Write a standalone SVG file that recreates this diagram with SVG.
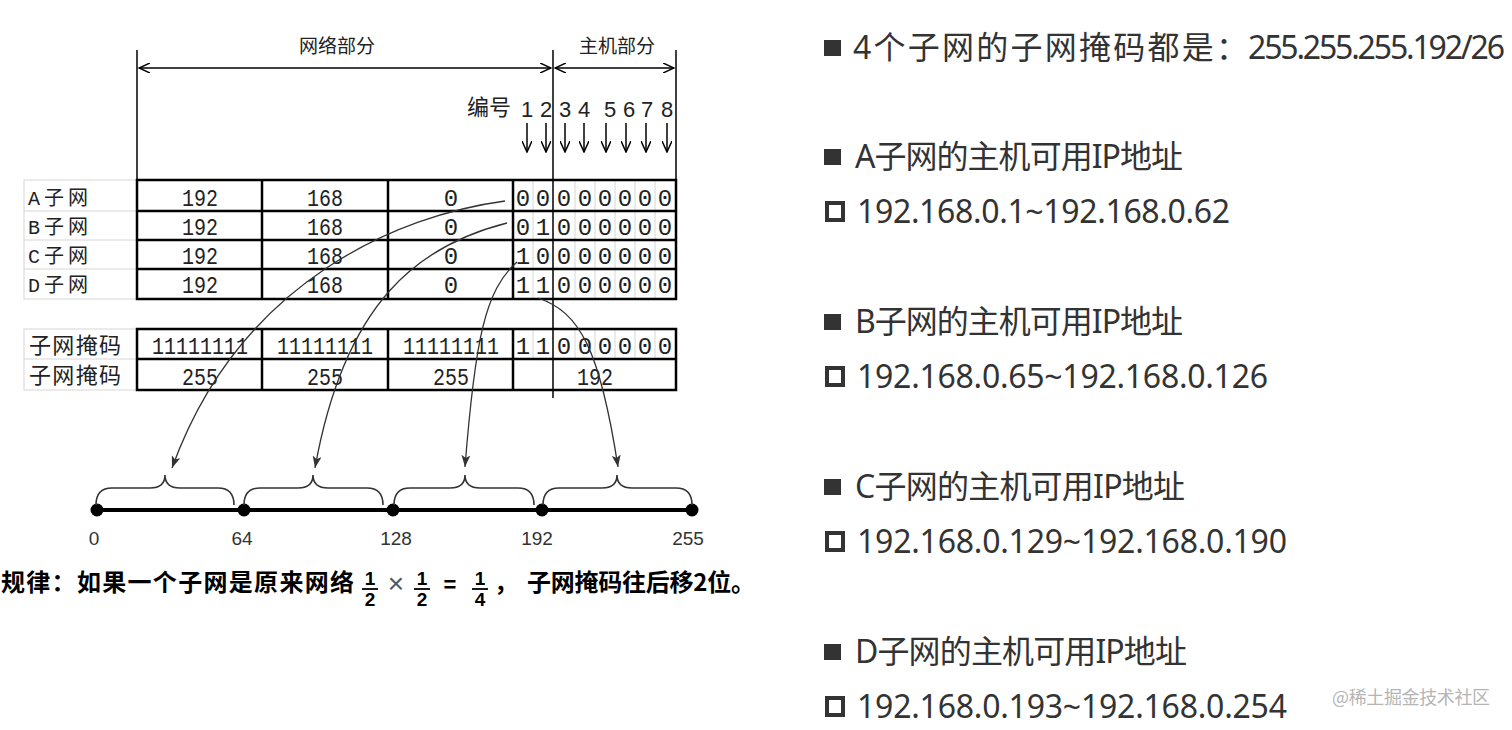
<svg xmlns="http://www.w3.org/2000/svg" width="1512" height="730" viewBox="0 0 1512 730">
<style>
.tbl{fill:none;stroke:#000;stroke-width:2.5}
.grid{fill:none;stroke:#d6d6d6;stroke-width:1}
.thin{fill:none;stroke:#000;stroke-width:1.5}
.cell{font-family:"Liberation Mono","Noto Sans CJK SC",monospace;font-size:24px;fill:#222;text-anchor:middle}
.lbl{font-family:"Liberation Mono","Noto Sans CJK SC",monospace;font-size:20px;fill:#222}
.lbl2{font-family:"Noto Sans CJK SC",sans-serif;font-size:22px;fill:#222}
.hdr{font-family:"Noto Sans CJK SC",sans-serif;font-size:19px;fill:#222;text-anchor:middle}
.bh{font-family:"Noto Sans CJK SC",sans-serif;font-size:22px;fill:#222}
.num{font-family:"Liberation Sans",Arial,sans-serif;font-size:22px;fill:#222;text-anchor:middle}
.conn{fill:none;stroke:#333;stroke-width:1.3}
.brace{fill:none;stroke:#333;stroke-width:1.6}
.axl{font-family:"Liberation Sans",Arial,sans-serif;font-size:19px;fill:#333;text-anchor:middle}
.rule{font-family:"Noto Sans CJK SC",sans-serif;font-weight:700;font-size:24px;fill:#000}
.frac{font-family:"Liberation Sans",Arial,sans-serif;font-weight:700;font-size:19px;fill:#000;text-anchor:middle}
.rt{font-family:"Noto Sans","Noto Sans CJK SC",sans-serif;font-size:32px;fill:#333}
.bul{fill:#333}
.hol{fill:#fff;stroke:#333;stroke-width:4}
.wm{font-family:"Noto Sans CJK SC",sans-serif;font-size:18px;fill:#b5b5b5}
</style>
<defs>
<marker id="open" viewBox="0 0 12 10" refX="11" refY="5" markerWidth="12" markerHeight="10" markerUnits="userSpaceOnUse" orient="auto-start-reverse">
<path d="M0,0 L11,5 L0,10" fill="none" stroke="#000" stroke-width="1.5"/>
</marker>
<marker id="stealth" viewBox="0 0 12 9" refX="12" refY="4.5" markerWidth="12" markerHeight="9" markerUnits="userSpaceOnUse" orient="auto">
<path d="M0,0 L12,4.5 L0,9 L3,4.5 z" fill="#333"/>
</marker>
</defs>

<g id="header">
<line class="thin" x1="137" y1="50" x2="137" y2="181"/>
<line class="thin" x1="553" y1="50" x2="553" y2="398"/>
<line class="thin" x1="676" y1="50" x2="676" y2="181"/>
<line class="thin" x1="139" y1="68" x2="551" y2="68" marker-start="url(#open)" marker-end="url(#open)"/>
<line class="thin" x1="555" y1="68" x2="674" y2="68" marker-start="url(#open)" marker-end="url(#open)"/>
<text class="hdr" x="337" y="53">网络部分</text>
<text class="hdr" x="617" y="53">主机部分</text>
</g>

<g id="bit-numbers">
<text class="bh" x="467" y="115">编号</text>
<text class="num" x="527" y="117">1</text>
<text class="num" x="546" y="117">2</text>
<text class="num" x="565" y="117">3</text>
<text class="num" x="584" y="117">4</text>
<text class="num" x="610" y="117">5</text>
<text class="num" x="629" y="117">6</text>
<text class="num" x="647" y="117">7</text>
<text class="num" x="667" y="117">8</text>
<g class="thin">
<line x1="527" y1="123" x2="527" y2="152" marker-end="url(#open)"/>
<line x1="546" y1="123" x2="546" y2="152" marker-end="url(#open)"/>
<line x1="565" y1="123" x2="565" y2="152" marker-end="url(#open)"/>
<line x1="584" y1="123" x2="584" y2="152" marker-end="url(#open)"/>
<line x1="606" y1="123" x2="606" y2="152" marker-end="url(#open)"/>
<line x1="626" y1="123" x2="626" y2="152" marker-end="url(#open)"/>
<line x1="646" y1="123" x2="646" y2="152" marker-end="url(#open)"/>
<line x1="667" y1="123" x2="667" y2="152" marker-end="url(#open)"/>
</g>
</g>

<g id="subnet-table">
<rect class="grid" x="24" y="180" width="113" height="119"/>
<line class="grid" x1="24" y1="211" x2="137" y2="211"/>
<line class="grid" x1="24" y1="240" x2="137" y2="240"/>
<line class="grid" x1="24" y1="269" x2="137" y2="269"/>
<g class="grid">
<line x1="533" y1="180" x2="533" y2="299"/>
<line x1="575" y1="180" x2="575" y2="299"/>
<line x1="595" y1="180" x2="595" y2="299"/>
<line x1="615" y1="180" x2="615" y2="299"/>
<line x1="635" y1="180" x2="635" y2="299"/>
<line x1="655" y1="180" x2="655" y2="299"/>
</g>
<rect class="tbl" x="137" y="180" width="539" height="119"/>
<line class="tbl" x1="137" y1="211" x2="676" y2="211"/>
<line class="tbl" x1="137" y1="240" x2="676" y2="240"/>
<line class="tbl" x1="137" y1="269" x2="676" y2="269"/>
<line class="tbl" x1="262" y1="180" x2="262" y2="299"/>
<line class="tbl" x1="388" y1="180" x2="388" y2="299"/>
<line class="tbl" x1="513" y1="180" x2="513" y2="299"/>
</g>

<g id="row-A">
<text class="lbl" x="28" y="205" textLength="60">A子网</text>
<text class="cell" x="200" y="206" textLength="36" lengthAdjust="spacingAndGlyphs">192</text>
<text class="cell" x="325" y="206" textLength="36" lengthAdjust="spacingAndGlyphs">168</text>
<text class="cell" x="451" y="206">0</text>
<text class="cell" y="206"><tspan x="523">0</tspan><tspan x="543">0</tspan><tspan x="564">0</tspan><tspan x="585">0</tspan><tspan x="605">0</tspan><tspan x="625">0</tspan><tspan x="645">0</tspan><tspan x="665">0</tspan></text>
</g>
<g id="row-B">
<text class="lbl" x="28" y="234" textLength="60">B子网</text>
<text class="cell" x="200" y="235" textLength="36" lengthAdjust="spacingAndGlyphs">192</text>
<text class="cell" x="325" y="235" textLength="36" lengthAdjust="spacingAndGlyphs">168</text>
<text class="cell" x="451" y="235">0</text>
<text class="cell" y="235"><tspan x="523">0</tspan><tspan x="543">1</tspan><tspan x="564">0</tspan><tspan x="585">0</tspan><tspan x="605">0</tspan><tspan x="625">0</tspan><tspan x="645">0</tspan><tspan x="665">0</tspan></text>
</g>
<g id="row-C">
<text class="lbl" x="28" y="263" textLength="60">C子网</text>
<text class="cell" x="200" y="264" textLength="36" lengthAdjust="spacingAndGlyphs">192</text>
<text class="cell" x="325" y="264" textLength="36" lengthAdjust="spacingAndGlyphs">168</text>
<text class="cell" x="451" y="264">0</text>
<text class="cell" y="264"><tspan x="523">1</tspan><tspan x="543">0</tspan><tspan x="564">0</tspan><tspan x="585">0</tspan><tspan x="605">0</tspan><tspan x="625">0</tspan><tspan x="645">0</tspan><tspan x="665">0</tspan></text>
</g>
<g id="row-D">
<text class="lbl" x="28" y="292" textLength="60">D子网</text>
<text class="cell" x="200" y="293" textLength="36" lengthAdjust="spacingAndGlyphs">192</text>
<text class="cell" x="325" y="293" textLength="36" lengthAdjust="spacingAndGlyphs">168</text>
<text class="cell" x="451" y="293">0</text>
<text class="cell" y="293"><tspan x="523">1</tspan><tspan x="543">1</tspan><tspan x="564">0</tspan><tspan x="585">0</tspan><tspan x="605">0</tspan><tspan x="625">0</tspan><tspan x="645">0</tspan><tspan x="665">0</tspan></text>
</g>

<g id="mask-table">
<rect class="grid" x="24" y="329" width="113" height="61"/>
<line class="grid" x1="24" y1="359" x2="137" y2="359"/>
<g class="grid">
<line x1="533" y1="329" x2="533" y2="359"/>
<line x1="575" y1="329" x2="575" y2="359"/>
<line x1="595" y1="329" x2="595" y2="359"/>
<line x1="615" y1="329" x2="615" y2="359"/>
<line x1="635" y1="329" x2="635" y2="359"/>
<line x1="655" y1="329" x2="655" y2="359"/>
</g>
<rect class="tbl" x="137" y="329" width="539" height="61"/>
<line class="tbl" x1="137" y1="359" x2="676" y2="359"/>
<line class="tbl" x1="262" y1="329" x2="262" y2="390"/>
<line class="tbl" x1="388" y1="329" x2="388" y2="390"/>
<line class="tbl" x1="513" y1="329" x2="513" y2="390"/>
</g>
<g id="mask-binary">
<text class="lbl2" x="29" y="353" textLength="92">子网掩码</text>
<text class="cell" x="200" y="354" textLength="96" lengthAdjust="spacingAndGlyphs">11111111</text>
<text class="cell" x="325" y="354" textLength="96" lengthAdjust="spacingAndGlyphs">11111111</text>
<text class="cell" x="451" y="354" textLength="96" lengthAdjust="spacingAndGlyphs">11111111</text>
<text class="cell" y="354"><tspan x="523">1</tspan><tspan x="543">1</tspan><tspan x="564">0</tspan><tspan x="585">0</tspan><tspan x="605">0</tspan><tspan x="625">0</tspan><tspan x="645">0</tspan><tspan x="665">0</tspan></text>
</g>
<g id="mask-decimal">
<text class="lbl2" x="29" y="383" textLength="92">子网掩码</text>
<text class="cell" x="200" y="385" textLength="36" lengthAdjust="spacingAndGlyphs">255</text>
<text class="cell" x="325" y="385" textLength="36" lengthAdjust="spacingAndGlyphs">255</text>
<text class="cell" x="451" y="385" textLength="36" lengthAdjust="spacingAndGlyphs">255</text>
<text class="cell" x="595" y="385" textLength="36" lengthAdjust="spacingAndGlyphs">192</text>
</g>

<g id="connectors">
<path class="conn" d="M505,201 C400,215 240,280 172,468" marker-end="url(#stealth)"/>
<path class="conn" d="M507,223 C420,245 345,300 315,468" marker-end="url(#stealth)"/>
<path class="conn" d="M517,262 C485,290 475,340 465,467" marker-end="url(#stealth)"/>
<path class="conn" d="M538,298 C580,312 600,350 618,467" marker-end="url(#stealth)"/>
</g>

<g id="number-line">
<line x1="97" y1="510" x2="692" y2="510" stroke="#000" stroke-width="4"/>
<circle cx="97" cy="510" r="6.5" fill="#000"/>
<circle cx="244" cy="510" r="6.5" fill="#000"/>
<circle cx="393" cy="510" r="6.5" fill="#000"/>
<circle cx="542" cy="510" r="6.5" fill="#000"/>
<circle cx="692" cy="510" r="6.5" fill="#000"/>
<text class="axl" x="94" y="545">0</text>
<text class="axl" x="242" y="545">64</text>
<text class="axl" x="396" y="545">128</text>
<text class="axl" x="537" y="545">192</text>
<text class="axl" x="688" y="545">255</text>
</g>
<g id="brace-A"><path class="brace" d="M96,505 Q96,488 112,488 L150,488 Q165,488 165,475 Q165,488 180,488 L218,488 Q234,488 234,505"/></g>
<g id="brace-B"><path class="brace" d="M244,505 Q244,488 260,488 L298,488 Q313,488 313,475 Q313,488 328,488 L367,488 Q383,488 383,505"/></g>
<g id="brace-C"><path class="brace" d="M394,505 Q394,488 410,488 L450,488 Q465,488 465,475 Q465,488 480,488 L518,488 Q534,488 534,505"/></g>
<g id="brace-D"><path class="brace" d="M543,505 Q543,488 559,488 L602,488 Q617,488 617,475 Q617,488 632,488 L676,488 Q692,488 692,505"/></g>

<g id="rule">
<text class="rule" x="1" y="591" textLength="353">规律：如果一个子网是原来网络</text>
<text class="frac" x="370" y="585">1</text>
<line x1="362" y1="589" x2="378" y2="589" stroke="#000" stroke-width="1.8"/>
<text class="frac" x="370" y="606">2</text>
<text x="396" y="593" font-family="Liberation Sans, sans-serif" font-size="28" fill="#555" text-anchor="middle">×</text>
<text class="frac" x="422" y="585">1</text>
<line x1="414" y1="589" x2="430" y2="589" stroke="#000" stroke-width="1.8"/>
<text class="frac" x="422" y="606">2</text>
<text x="450" y="592" font-family="Liberation Sans, sans-serif" font-weight="700" font-size="22" fill="#000" text-anchor="middle">=</text>
<text class="frac" x="480" y="585">1</text>
<line x1="472" y1="589" x2="488" y2="589" stroke="#000" stroke-width="1.8"/>
<text class="frac" x="480" y="606">4</text>
<text class="rule" x="494" y="591">，</text>
<text class="rule" x="527" y="591" textLength="228">子网掩码往后移2位。</text>
</g>

<g id="mask-summary">
<rect class="bul" x="824" y="40" width="17" height="16"/>
<text class="rt" x="853" y="59" textLength="395">4个子网的子网掩码都是：</text>
<text class="rt" x="1248" y="59" textLength="257">255.255.255.192/26</text>
</g>
<g id="subnet-A-info">
<rect class="bul" x="824" y="149" width="17" height="16"/>
<text class="rt" x="855" y="168" textLength="328">A子网的主机可用IP地址</text>
<rect class="hol" x="827" y="203" width="16" height="17"/>
<text class="rt" x="857" y="223" textLength="373">192.168.0.1~192.168.0.62</text>
</g>
<g id="subnet-B-info">
<rect class="bul" x="824" y="314" width="17" height="16"/>
<text class="rt" x="855" y="333" textLength="328">B子网的主机可用IP地址</text>
<rect class="hol" x="827" y="368" width="16" height="17"/>
<text class="rt" x="857" y="388" textLength="411">192.168.0.65~192.168.0.126</text>
</g>
<g id="subnet-C-info">
<rect class="bul" x="824" y="479" width="17" height="16"/>
<text class="rt" x="855" y="498" textLength="330">C子网的主机可用IP地址</text>
<rect class="hol" x="827" y="533" width="16" height="17"/>
<text class="rt" x="857" y="553" textLength="430">192.168.0.129~192.168.0.190</text>
</g>
<g id="subnet-D-info">
<rect class="bul" x="824" y="644" width="17" height="16"/>
<text class="rt" x="855" y="663" textLength="332">D子网的主机可用IP地址</text>
<rect class="hol" x="827" y="698" width="16" height="17"/>
<text class="rt" x="857" y="718" textLength="430">192.168.0.193~192.168.0.254</text>
</g>
<g id="watermark">
<text class="wm" x="1332" y="704" textLength="158">@稀土掘金技术社区</text>
</g>
</svg>
